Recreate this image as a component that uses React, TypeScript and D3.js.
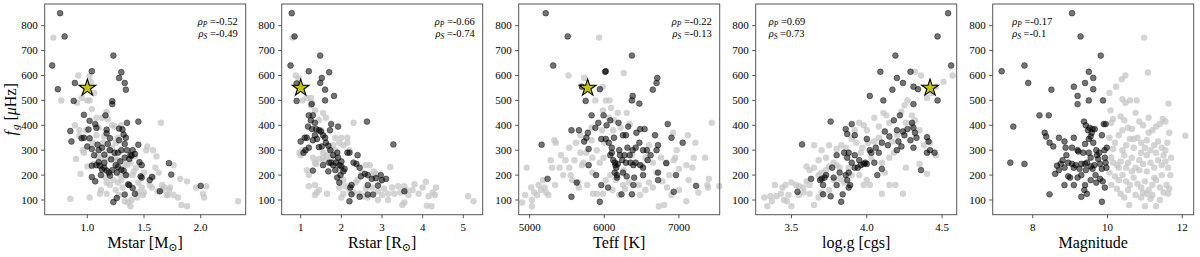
import React, { useEffect, useRef } from 'react';
import * as d3 from 'd3';

// fg [uHz] against stellar parameters; dark = bright stars (V < 10), light = faint
const mstarDark = [[0.76,850],[0.80,757],[0.69,640],[0.74,545],[0.89,570],[0.88,498],[1.04,617],[1.23,680],[1.30,613],[1.28,590],[1.33,570],[1.34,543],[1.22,497],[1.22,485],[0.97,442],[0.85,377],[0.86,335],[0.95,348],[0.97,350],[1.01,383],[1.02,348],[1.02,418],[1.07,405],[1.08,390],[1.16,440],[1.17,382],[1.17,368],[1.20,348],[1.28,387],[1.31,383],[1.32,363],[1.34,350],[1.35,410],[1.45,415],[1.00,315],[1.04,305],[1.06,280],[1.09,322],[1.10,300],[1.13,310],[1.15,282],[1.18,325],[1.20,300],[1.21,263],[1.24,290],[1.27,290],[1.28,340],[1.30,300],[1.33,325],[1.35,300],[1.38,280],[1.40,300],[1.42,285],[1.45,322],[1.04,238],[1.04,192],[1.08,240],[1.10,252],[1.11,238],[1.13,222],[1.12,200],[1.07,175],[1.15,250],[1.17,218],[1.19,210],[1.22,220],[1.25,240],[1.27,232],[1.30,222],[1.32,218],[1.34,200],[1.36,163],[1.37,160],[1.33,122],[1.23,92],[1.26,108],[1.40,148],[1.42,125],[1.46,252],[1.48,240],[1.47,195],[1.48,190],[1.55,180],[1.57,193],[1.64,135],[1.72,248],[1.74,202],[2.00,157],[1.39,278],[1.37,265],[1.33,270],[1.29,255],[1.26,210],[1.20,198],[1.15,230]];
const mstarLight = [[0.70,752],[0.77,500],[0.92,600],[1.02,598],[1.03,575],[0.91,490],[0.95,510],[1.00,500],[1.02,500],[1.06,530],[1.04,465],[0.89,400],[0.93,380],[0.99,380],[1.08,430],[1.13,430],[1.17,455],[1.18,425],[1.24,395],[1.30,400],[1.10,390],[0.93,357],[0.96,300],[0.90,265],[0.85,105],[0.94,205],[1.00,235],[0.97,290],[1.05,330],[1.14,330],[1.12,270],[1.13,230],[1.17,170],[1.20,160],[1.12,140],[1.11,125],[1.02,110],[1.17,125],[1.18,270],[1.25,330],[1.27,260],[1.29,200],[1.30,180],[1.35,240],[1.35,200],[1.38,250],[1.40,200],[1.43,230],[1.45,170],[1.45,130],[1.50,130],[1.52,300],[1.53,315],[1.58,300],[1.61,275],[1.65,410],[1.60,230],[1.63,210],[1.66,160],[1.68,150],[1.70,120],[1.72,140],[1.73,150],[1.76,240],[1.82,185],[1.80,110],[1.83,80],[1.88,75],[1.88,175],[1.96,150],[2.05,155],[2.02,125],[2.03,110],[2.33,95],[1.55,160],[1.50,210],[1.42,275],[1.36,90],[1.38,75],[1.31,150],[1.27,170],[1.23,180],[1.25,140],[1.39,100],[1.48,150],[1.57,150],[1.62,135],[1.71,120],[1.76,120],[1.22,310],[1.24,270],[1.41,215],[1.33,245],[1.19,300],[1.08,360],[1.15,355],[1.22,400],[1.27,350],[1.09,275],[1.06,245],[1.16,190],[1.28,120],[1.33,95],[1.44,110],[1.49,120],[1.66,140],[1.58,190]];

const rstarDark = [[0.78,850],[0.85,757],[0.75,640],[0.90,568],[0.90,498],[1.20,617],[1.48,680],[1.70,613],[1.52,590],[1.48,570],[1.60,543],[1.82,518],[1.60,500],[1.27,485],[1.20,440],[1.25,420],[1.30,440],[1.35,410],[1.18,395],[1.28,385],[1.38,385],[1.45,380],[1.50,375],[1.55,360],[1.60,350],[1.72,380],[1.75,405],[1.92,395],[2.63,415],[3.28,323],[1.00,335],[1.10,350],[1.15,350],[1.20,310],[1.07,290],[1.12,300],[1.30,340],[1.35,360],[1.40,345],[1.45,312],[1.52,315],[1.62,330],[1.68,318],[1.73,300],[1.80,280],[1.90,290],[1.92,270],[2.00,255],[1.55,240],[1.70,250],[1.75,250],[1.80,240],[1.87,250],[1.95,240],[2.00,235],[2.08,225],[2.15,290],[2.20,290],[2.40,280],[2.30,250],[2.37,245],[2.45,230],[1.30,218],[1.68,215],[1.90,190],[1.95,170],[2.05,215],[2.25,160],[2.22,150],[2.25,123],[2.20,95],[2.65,122],[2.65,160],[2.48,195],[2.58,205],[2.65,200],[2.75,185],[2.85,188],[2.90,158],[2.97,200],[3.00,180],[3.10,185],[3.55,135],[2.78,122],[2.45,113],[1.85,220],[1.98,200]];
const rstarLight = [[0.80,752],[0.88,600],[0.95,590],[1.05,500],[1.15,510],[1.25,510],[1.28,490],[1.35,460],[1.55,450],[1.62,430],[1.45,420],[1.50,380],[0.97,290],[1.00,280],[1.05,300],[1.20,200],[1.35,250],[1.38,245],[1.45,265],[1.55,270],[1.60,260],[1.35,160],[1.45,140],[1.35,120],[1.65,125],[1.85,350],[1.95,330],[2.00,350],[2.05,320],[2.15,330],[2.15,350],[2.30,410],[2.20,300],[1.65,280],[1.75,270],[1.85,265],[1.95,220],[2.05,180],[2.10,155],[2.20,140],[2.05,125],[2.30,130],[2.35,170],[2.45,125],[2.55,115],[2.65,110],[2.75,150],[2.80,215],[2.85,205],[2.95,175],[3.05,145],[3.15,125],[3.20,233],[3.25,150],[3.30,125],[3.40,155],[3.45,130],[3.50,80],[3.55,155],[3.60,140],[3.65,120],[3.75,140],[3.80,163],[3.90,125],[4.00,150],[4.08,173],[4.10,77],[4.15,115],[4.22,75],[4.25,130],[4.30,120],[4.33,150],[3.55,90],[2.40,180],[2.50,210],[2.60,240],[2.70,240],[2.80,200],[2.90,135],[3.00,120],[1.95,150],[1.85,300],[1.70,305],[1.80,320],[5.12,115],[5.25,95],[2.00,110],[2.90,100],[3.15,100],[2.60,145],[1.40,130],[1.20,155],[1.15,220],[1.30,270],[1.55,290],[1.25,480]];

const teffDark = [[5215,850],[5510,757],[5315,640],[6020,617],[6010,615],[6370,680],[6710,590],[6700,570],[6650,543],[6380,518],[6370,500],[6470,487],[5940,545],[5700,555],[5750,498],[5830,440],[5990,440],[5920,410],[6080,420],[6030,400],[6190,410],[6320,395],[6480,385],[6540,385],[6850,405],[6430,370],[5880,390],[5780,370],[5760,350],[5660,380],[5560,380],[5160,322],[5730,335],[5790,305],[5960,345],[6020,345],[6130,350],[6200,300],[6250,360],[6290,360],[6310,310],[6380,300],[6420,310],[6470,330],[6520,300],[6570,300],[6700,300],[6720,320],[6680,360],[6900,350],[7050,330],[6080,280],[6100,290],[6120,260],[6140,250],[6150,240],[6160,230],[6180,245],[6210,280],[6240,260],[6270,280],[6290,250],[6340,280],[6350,250],[6390,240],[6420,250],[6480,240],[6520,230],[6140,210],[6170,200],[6250,210],[6300,195],[6400,190],[6520,200],[6720,210],[6830,248],[6720,180],[6960,200],[5790,240],[5890,200],[5630,170],[5960,160],[6050,150],[6170,190],[6390,160],[6230,123],[6370,123],[5240,185],[5560,113],[5940,93],[6930,133],[7230,157],[6620,280],[6580,260],[6100,310],[6060,330]];
const teffLight = [[5930,752],[5520,600],[5730,590],[6260,610],[5980,555],[5880,500],[6020,500],[6070,500],[6090,470],[5980,460],[6180,450],[6300,450],[6060,430],[6130,420],[6340,405],[6220,390],[6120,380],[5830,390],[5680,360],[5620,330],[5530,310],[5420,280],[5350,330],[5330,340],[5280,260],[5300,230],[5180,180],[5120,160],[5150,140],[5200,150],[5220,130],[5100,120],[5060,130],[4940,120],[4960,230],[5020,150],[5030,100],[4900,90],[5030,75],[5250,120],[5340,160],[5400,230],[5450,200],[5480,260],[5530,230],[5550,200],[5600,260],[5570,180],[5650,170],[5660,150],[5720,250],[5760,290],[5680,290],[5840,270],[5840,210],[5770,160],[5850,125],[5900,125],[5980,125],[6020,180],[5940,250],[5990,270],[5900,300],[6080,200],[6150,180],[6200,120],[6250,160],[6330,170],[6460,160],[6480,120],[6550,140],[6600,170],[6650,150],[6700,210],[6730,75],[6800,80],[6760,270],[6830,250],[6780,175],[6840,150],[6900,120],[6930,260],[6970,300],[6950,270],[7000,225],[7100,240],[7100,95],[7130,180],[7180,230],[7200,270],[7220,330],[7260,130],[7350,270],[7380,160],[7390,150],[7400,185],[7440,410],[7540,155],[7120,360],[6920,370],[6600,320],[6500,240],[6550,270],[6650,250],[6260,220],[6370,280],[6000,330],[5970,380],[5830,340],[5700,240],[6110,140],[6280,145],[6870,200],[7000,140]];

const loggDark = [[4.54,850],[4.47,757],[4.56,640],[4.19,680],[4.09,615],[4.20,590],[4.29,615],[4.24,570],[4.17,543],[4.31,555],[4.34,545],[4.31,485],[4.47,500],[4.11,500],[4.02,518],[3.76,415],[3.57,323],[3.86,385],[3.90,405],[3.87,365],[3.92,360],[4.00,345],[4.18,420],[4.22,440],[4.20,380],[4.15,355],[4.12,375],[4.24,375],[4.27,385],[4.25,360],[4.30,410],[4.31,390],[4.32,370],[4.33,350],[4.29,340],[4.40,352],[4.41,335],[4.42,300],[4.45,290],[4.40,290],[4.31,310],[4.23,315],[4.20,300],[4.14,320],[4.10,330],[4.08,290],[4.06,310],[4.03,290],[4.00,245],[3.99,250],[3.98,245],[3.96,240],[3.94,230],[3.92,230],[3.90,250],[3.88,290],[3.85,290],[3.87,270],[3.92,280],[3.95,260],[4.05,250],[4.07,200],[4.10,225],[3.80,280],[3.77,230],[3.73,200],[3.70,185],[3.69,180],[3.72,190],[3.71,160],[3.71,123],[3.63,185],[3.54,133],[3.76,115],[3.82,210],[3.80,160],[3.86,200],[3.87,180],[3.89,160],[3.88,150],[3.84,123],[3.83,93],[3.88,210],[4.36,220],[4.21,335],[4.02,300],[3.78,190]];
const loggLight = [[4.57,600],[4.51,575],[4.46,555],[4.43,530],[4.40,510],[4.36,600],[4.32,615],[4.27,500],[4.25,480],[4.23,455],[4.30,440],[4.30,400],[4.32,420],[4.26,410],[4.15,410],[4.11,450],[4.13,440],[4.05,430],[4.08,395],[4.00,380],[3.95,410],[3.98,400],[3.92,380],[3.90,345],[3.93,330],[3.86,310],[3.83,320],[3.80,305],[3.75,320],[3.70,300],[3.65,320],[3.60,235],[3.62,220],[3.65,230],[3.68,200],[3.70,210],[3.73,220],[3.75,235],[3.78,250],[3.80,240],[3.82,230],[3.60,175],[3.62,160],[3.58,150],[3.55,155],[3.53,160],[3.50,170],[3.48,120],[3.46,160],[3.44,150],[3.43,125],[3.40,115],[3.45,100],[3.47,95],[3.50,75],[3.36,115],[3.34,75],[3.32,110],[3.37,95],[3.39,160],[3.55,120],[3.58,130],[3.62,125],[3.65,80],[3.68,110],[3.70,130],[3.75,140],[3.78,180],[3.82,185],[3.85,170],[3.95,200],[3.98,160],[4.00,180],[4.02,160],[4.10,125],[4.15,160],[4.19,160],[4.24,125],[4.26,230],[4.35,245],[4.40,205],[4.46,280],[4.10,250],[4.12,210],[4.15,270],[4.18,290],[4.08,350],[4.05,335],[4.01,330],[3.97,310],[4.03,270],[3.96,290],[4.17,335],[4.20,360],[4.35,380],[4.38,320],[4.42,330],[3.88,230],[3.90,200],[3.73,270],[3.68,260]];

const magDark = [[9.05,850],[9.28,757],[9.82,680],[7.78,640],[7.17,617],[7.88,570],[8.50,543],[9.10,555],[9.40,570],[9.50,615],[9.62,590],[9.62,545],[9.20,518],[9.20,485],[9.50,500],[9.88,500],[8.18,440],[8.43,440],[7.48,395],[8.32,370],[8.36,355],[8.45,330],[8.55,315],[8.70,350],[8.85,335],[8.88,310],[9.10,350],[9.05,310],[9.20,300],[9.22,295],[9.37,415],[9.42,400],[9.48,380],[9.52,390],[9.60,385],[9.58,370],[9.66,385],[9.40,325],[9.50,345],[9.55,355],[9.62,330],[9.70,300],[9.78,290],[9.85,360],[9.90,405],[9.95,405],[9.92,300],[9.98,310],[9.95,250],[9.97,230],[9.93,270],[9.85,225],[9.80,245],[9.75,265],[9.72,280],[9.65,240],[9.60,225],[9.55,270],[9.50,290],[9.45,250],[9.40,245],[9.35,290],[9.30,245],[9.25,225],[9.15,240],[9.10,230],[9.05,245],[8.95,250],[8.90,280],[8.80,260],[8.75,245],[8.65,238],[8.60,205],[8.70,220],[8.85,230],[8.95,195],[9.00,190],[9.20,190],[9.30,200],[9.42,220],[9.55,180],[9.70,170],[9.80,185],[9.87,175],[9.93,150],[9.40,160],[9.45,125],[9.30,113],[9.38,140],[9.10,160],[8.85,160],[8.45,123],[9.85,93],[7.40,250],[7.78,245],[9.68,200],[9.55,235]];
const magLight = [[10.98,752],[11.08,612],[10.48,600],[10.38,585],[10.23,555],[10.05,530],[10.40,505],[10.48,490],[10.60,500],[10.78,500],[11.63,487],[10.08,460],[10.15,425],[10.10,410],[10.35,435],[10.45,420],[10.55,390],[10.65,385],[10.75,450],[10.85,415],[10.95,400],[11.10,430],[11.20,380],[11.30,395],[11.40,405],[11.48,425],[11.55,415],[11.65,370],[12.08,358],[10.05,350],[10.20,330],[10.30,360],[10.40,300],[10.50,320],[10.60,345],[10.70,310],[10.80,350],[10.90,330],[11.00,310],[11.05,340],[11.15,300],[11.25,320],[11.35,335],[11.45,310],[11.55,300],[11.60,330],[11.70,270],[10.10,270],[10.15,250],[10.25,240],[10.35,255],[10.45,280],[10.55,250],[10.65,270],[10.75,230],[10.85,260],[10.95,245],[11.05,280],[11.15,250],[11.25,230],[11.35,260],[11.45,240],[11.55,255],[11.62,230],[11.68,200],[10.05,210],[10.20,195],[10.30,180],[10.40,200],[10.50,175],[10.60,160],[10.70,190],[10.80,165],[10.90,150],[11.00,175],[11.10,140],[11.20,160],[11.30,180],[11.40,150],[11.50,130],[11.58,160],[11.62,125],[11.65,145],[10.10,160],[10.25,145],[10.35,125],[10.45,110],[10.55,140],[10.58,80],[10.90,110],[11.00,75],[11.20,120],[11.30,75],[11.40,100],[10.95,130],[11.05,125],[11.15,105],[10.75,120],[10.65,215],[10.85,220],[11.05,215],[11.25,190],[11.45,200],[10.40,380],[10.70,345],[10.90,290],[11.10,370],[11.30,290],[11.50,280],[10.30,230],[10.15,305],[10.50,230]];

// the Sun
const sunPoints = [[1.0, 550], [1.0, 550], [5777, 550], [4.42, 550], null];

const xLabels = [['Mstar [M', '⊙', ']'], ['Rstar [R', '⊙', ']'], ['Teff [K]'], ['log.g [cgs]'], ['Magnitude']];
const xTicks = [[1.0, 1.5, 2.0], [1, 2, 3, 4, 5], [5000, 6000, 7000], [3.5, 4.0, 4.5], [8, 10, 12]];
const xFormats = ['.1f', 'd', 'd', '.1f', 'd'];
const xDomains = [[0.624, 2.397], [0.533, 5.477], [4853, 7546], [3.2625, 4.597], [6.93, 12.305]];
const yTicks = [100, 200, 300, 400, 500, 600, 700, 800];
const rhoP = ['-0.52', '-0.66', '-0.22', '0.69', '-0.17'];
const rhoS = ['-0.49', '-0.74', '-0.13', '0.73', '-0.1'];

const darkSets = [mstarDark, rstarDark, teffDark, loggDark, magDark];
const lightSets = [mstarLight, rstarLight, teffLight, loggLight, magLight];

const FONT = "'Liberation Serif', 'DejaVu Serif', 'Times New Roman', serif";

const App = () => {
    const ref = useRef(null);

    useEffect(() => {
        const svg = d3.select(ref.current);
        svg.selectAll('*').remove();

        const top = 4, bottom = 214.7, pw = 201;
        const y = d3.scaleLinear().domain([41, 887]).range([bottom, top]);

        const txt = (sel, size) => sel.append('text')
            .style('font-family', FONT)
            .style('font-size', size + 'px');

        for (let i = 0; i < 5; i++) {
            const left = 44.7 + i * 237;
            const x = d3.scaleLinear().domain(xDomains[i]).range([left, left + pw]);
            const g = svg.append('g');

            g.selectAll('.light')
                .data(lightSets[i])
                .enter().append('circle')
                .attr('cx', d => x(d[0]))
                .attr('cy', d => y(d[1]))
                .attr('r', 3.2)
                .attr('fill', '#c4c4c4')
                .attr('fill-opacity', 0.72);

            g.selectAll('.dark')
                .data(darkSets[i])
                .enter().append('circle')
                .attr('cx', d => x(d[0]))
                .attr('cy', d => y(d[1]))
                .attr('r', 2.9)
                .attr('fill', '#000')
                .attr('fill-opacity', 0.55)
                .attr('stroke', '#000')
                .attr('stroke-opacity', 0.5)
                .attr('stroke-width', 0.8);

            const sun = sunPoints[i];
            if (sun) {
                g.append('path')
                    .attr('d', d3.symbol(d3.symbolStar, 88)())
                    .attr('transform', `translate(${x(sun[0])},${y(sun[1])})`)
                    .attr('fill', '#c4c400')
                    .attr('stroke', '#000')
                    .attr('stroke-width', 1.1);
            }

            // frame
            g.append('rect')
                .attr('x', left).attr('y', top)
                .attr('width', pw).attr('height', bottom - top)
                .attr('fill', 'none')
                .attr('stroke', '#555')
                .attr('stroke-width', 1);

            // y ticks
            const fmtY = d3.format('d');
            yTicks.forEach(t => {
                g.append('line')
                    .attr('x1', left - 3.5).attr('x2', left)
                    .attr('y1', y(t)).attr('y2', y(t))
                    .attr('stroke', '#555');
                txt(g, 11)
                    .attr('x', left - 7).attr('y', y(t) + 3.8)
                    .attr('text-anchor', 'end')
                    .text(fmtY(t));
            });

            // x ticks
            const fmtX = d3.format(xFormats[i]);
            xTicks[i].forEach(t => {
                g.append('line')
                    .attr('x1', x(t)).attr('x2', x(t))
                    .attr('y1', bottom).attr('y2', bottom + 3.5)
                    .attr('stroke', '#555');
                txt(g, 11)
                    .attr('x', x(t)).attr('y', bottom + 16)
                    .attr('text-anchor', 'middle')
                    .text(fmtX(t));
            });

            // x label
            const lab = txt(g, 16)
                .attr('x', left + pw / 2).attr('y', 248)
                .attr('text-anchor', 'middle');
            const parts = xLabels[i];
            lab.append('tspan').text(parts[0]);
            if (parts.length > 1) {
                lab.append('tspan').style('font-size', '11px').attr('dy', 3).text(parts[1]);
                lab.append('tspan').attr('dy', -3).text(parts[2]);
            }

            // correlation coefficients
            const rightSide = i < 3;
            const tx = rightSide ? left + pw - 8 : (i === 3 ? left + 13 : left + 19.5);
            [['P', rhoP[i], 25], ['S', rhoS[i], 36.5]].forEach(([sub, val, ty]) => {
                const t = txt(g, 10.5)
                    .attr('x', tx).attr('y', ty)
                    .attr('text-anchor', rightSide ? 'end' : 'start');
                t.append('tspan').style('font-style', 'italic').text('ρ');
                t.append('tspan').style('font-style', 'italic').style('font-size', '7.5px').attr('dy', 2).text(sub);
                t.append('tspan').attr('dy', -2).text(' =' + val);
            });
        }

        // y label
        const yl = txt(svg, 16)
            .attr('transform', `translate(16,${(top + bottom) / 2}) rotate(-90)`)
            .attr('text-anchor', 'middle');
        yl.append('tspan').style('font-style', 'italic').text('f');
        yl.append('tspan').style('font-style', 'italic').style('font-size', '11px').attr('dx', 1).attr('dy', 3).text('g');
        yl.append('tspan').attr('dy', -3).text(' [');
        yl.append('tspan').style('font-style', 'italic').text('μ');
        yl.append('tspan').text('Hz]');
    }, []);

    return (
        <svg ref={ref} width={1200} height={257}
             style={{ position: 'absolute', left: 0, top: 0, background: '#fff' }}></svg>
    );
};

export default App;
